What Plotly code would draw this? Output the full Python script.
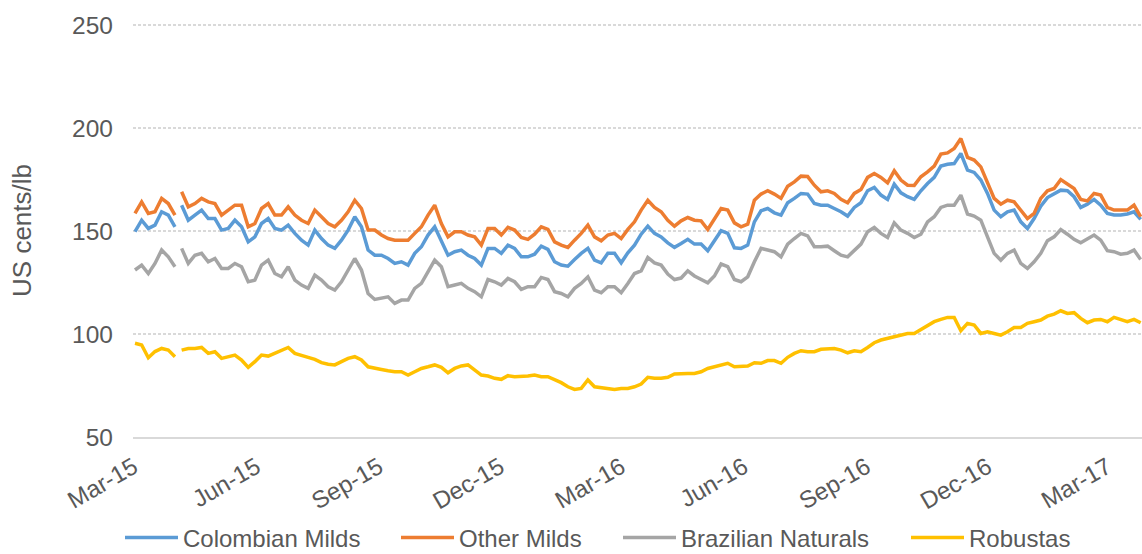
import pandas as pd
import plotly.graph_objects as go

# ---- data (US cents/lb, sampled every 5 days from 2 Mar 2015) ----
start_date = "2015-03-02"
step = "5D"
gap_date = "2015-04-03"   # short break in the published series

series_names = ["Colombian Milds", "Other Milds", "Brazilian Naturals", "Robustas"]

colombian_milds = [
    149.7, 155.3, 151.3, 152.9, 159.4, 157.8, 152.1, 162.6, 155.3, 157.8,
    160.2, 156.1, 156.1, 150.5, 151.3, 155.3, 152.1, 144.8, 147.2, 153.7,
    156.1, 151.3, 150.5, 152.9, 148.9, 145.6, 143.2, 150.5, 146.4, 143.2,
    141.6, 145.6, 150.5, 157.0, 152.1, 140.8, 138.3, 138.3, 136.7, 134.3,
    135.1, 133.5, 139.2, 142.4, 148.1, 152.1, 145.6, 138.3, 140.0, 140.8,
    138.3, 136.7, 133.5, 141.6, 141.6, 139.2, 143.2, 141.6, 137.5, 137.5,
    138.8, 142.7, 141.1, 135.1, 133.5, 133.0, 136.2, 139.2, 141.6, 135.9,
    134.6, 139.2, 139.2, 134.6, 139.5, 143.2, 148.5, 152.4, 148.9, 147.2,
    144.3, 142.1, 144.0, 146.0, 143.7, 143.7, 140.5, 145.3, 150.2, 148.9,
    141.9, 141.6, 143.2, 154.5, 159.9, 161.0, 158.9, 157.8, 163.8, 165.9,
    168.3, 168.0, 163.4, 162.6, 162.6, 161.0, 159.4, 157.3, 161.5, 163.8,
    169.6, 171.2, 167.5, 165.4, 172.8, 168.6, 166.7, 165.4, 169.6, 173.1,
    176.1, 181.6, 182.5, 182.8, 187.7, 179.6, 178.5, 174.8, 168.3, 160.2,
    157.0, 159.4, 160.2, 154.5, 151.3, 156.1, 162.1, 166.3, 168.0, 169.9,
    169.6, 166.7, 161.5, 163.1, 165.4, 162.6, 158.6, 157.8, 157.8, 158.3,
    159.4, 155.7,
]

other_milds = [
    158.6, 164.2, 158.6, 159.4, 165.9, 163.4, 157.8, 169.1, 161.8, 163.4,
    165.9, 164.2, 163.4, 157.8, 160.2, 162.6, 162.6, 152.1, 153.7, 161.0,
    163.4, 157.8, 157.8, 161.8, 157.8, 155.3, 153.7, 160.2, 157.0, 153.7,
    152.1, 155.3, 159.4, 165.0, 161.0, 150.5, 150.5, 148.1, 146.4, 145.6,
    145.6, 145.6, 148.9, 152.1, 157.8, 162.6, 153.7, 147.2, 149.7, 149.7,
    148.1, 147.2, 143.2, 151.3, 151.3, 148.1, 151.8, 150.5, 146.9, 146.0,
    148.5, 152.1, 150.8, 144.8, 143.2, 142.1, 145.6, 148.9, 152.9, 147.2,
    145.3, 148.1, 148.9, 146.4, 150.8, 154.5, 160.2, 165.0, 161.5, 159.4,
    155.3, 152.4, 155.0, 156.6, 155.3, 155.0, 150.8, 155.7, 161.0, 160.2,
    154.0, 152.1, 153.4, 165.0, 168.0, 169.6, 168.0, 165.9, 171.8, 173.9,
    176.7, 176.5, 172.3, 169.1, 169.6, 168.3, 165.4, 163.8, 168.3, 170.2,
    176.1, 178.0, 176.1, 173.5, 179.3, 174.8, 172.3, 172.2, 176.4, 178.8,
    181.6, 187.4, 188.0, 190.1, 195.0, 185.8, 184.5, 181.2, 173.9, 165.9,
    163.1, 165.0, 164.2, 160.2, 156.1, 158.6, 165.9, 169.6, 170.7, 175.0,
    172.8, 170.7, 165.4, 164.7, 168.3, 167.5, 161.5, 160.2, 160.2, 160.2,
    162.6, 157.0,
]

brazilian_naturals = [
    131.1, 133.5, 129.4, 134.3, 140.8, 137.5, 132.7, 141.6, 134.3, 138.3,
    139.2, 135.1, 136.7, 131.9, 131.9, 134.3, 132.7, 125.4, 126.2, 133.5,
    135.9, 129.4, 127.8, 132.7, 126.2, 123.8, 122.2, 128.6, 126.2, 123.0,
    121.4, 125.4, 131.1, 136.7, 131.1, 119.7, 116.8, 117.3, 118.1, 114.9,
    116.5, 116.5, 122.2, 124.6, 130.3, 135.9, 132.7, 123.0, 123.8, 124.6,
    122.2, 120.6, 118.1, 126.5, 125.4, 123.8, 127.0, 125.4, 121.7, 123.0,
    123.0, 127.5, 126.5, 120.6, 119.7, 118.1, 122.2, 124.6, 127.8, 121.4,
    120.1, 123.0, 123.0, 120.1, 124.6, 129.4, 130.7, 137.2, 134.6, 133.5,
    129.1, 126.5, 127.2, 130.7, 128.2, 126.5, 124.9, 128.2, 134.0, 132.7,
    126.5, 125.4, 127.8, 135.1, 141.6, 140.8, 140.0, 137.5, 143.7, 146.4,
    148.9, 147.7, 142.4, 142.4, 142.7, 140.5, 138.3, 137.5, 140.8, 143.7,
    149.7, 151.8, 148.9, 146.9, 154.0, 150.5, 148.9, 146.9, 148.5, 154.5,
    157.0, 161.5, 162.6, 162.6, 167.5, 158.3, 157.3, 155.3, 147.2, 139.2,
    135.9, 139.2, 140.8, 134.3, 131.9, 135.1, 139.2, 145.3, 147.2, 150.8,
    148.5, 146.0, 144.3, 146.4, 148.1, 145.6, 140.5, 140.0, 138.8, 139.2,
    140.8, 136.2,
]

robustas = [
    95.5, 94.7, 88.5, 91.5, 93.0, 92.2, 89.0, 92.2, 93.0, 93.0,
    93.5, 90.6, 91.4, 88.2, 89.0, 89.8, 87.4, 83.8, 86.6, 89.8,
    89.3, 90.6, 92.2, 93.5, 90.6, 89.8, 88.7, 87.7, 86.1, 85.3,
    85.0, 86.6, 88.2, 89.0, 87.4, 84.1, 83.3, 82.8, 82.2, 81.7,
    81.7, 80.1, 81.7, 83.3, 84.1, 85.0, 83.8, 81.2, 83.3, 84.5,
    85.0, 82.5, 80.1, 79.6, 78.5, 78.0, 79.8, 79.3, 79.3, 79.6,
    80.1, 79.3, 79.3, 78.0, 76.4, 74.4, 73.1, 73.6, 77.7, 74.4,
    74.1, 73.6, 73.1, 73.6, 73.6, 74.4, 75.7, 79.0, 78.5, 78.5,
    79.0, 80.6, 80.9, 80.9, 80.9, 81.7, 83.3, 84.1, 85.0, 85.8,
    84.1, 84.1, 84.5, 86.1, 85.8, 87.1, 87.1, 85.8, 88.7, 90.6,
    91.9, 91.4, 91.4, 92.6, 93.0, 93.0, 92.2, 90.9, 91.9, 91.4,
    93.5, 95.8, 97.1, 97.9, 99.0, 99.5, 100.3, 100.3, 102.3, 103.9,
    106.0, 107.1, 108.1, 108.1, 101.6, 105.2, 104.4, 100.3, 101.1, 100.3,
    99.5, 101.1, 103.2, 103.2, 105.2, 106.0, 106.8, 108.7, 109.7, 111.3,
    110.0, 110.4, 107.6, 105.5, 106.8, 107.1, 106.0, 108.1, 107.1, 106.0,
    107.1, 105.5,
]

y_ticks = [50, 100, 150, 200, 250]
y_title = "US cents/lb"

# ---- build table ----
dates = pd.date_range(start_date, periods=len(colombian_milds), freq=step)
df = pd.DataFrame(
    {
        "Colombian Milds": colombian_milds,
        "Other Milds": other_milds,
        "Brazilian Naturals": brazilian_naturals,
        "Robustas": robustas,
    },
    index=dates,
)
df.loc[pd.Timestamp(gap_date)] = float("nan")
df = df.sort_index()

colors = {
    "Colombian Milds": "#5B9BD5",
    "Other Milds": "#ED7D31",
    "Brazilian Naturals": "#A5A5A5",
    "Robustas": "#FFC000",
}

FONT = "Liberation Sans, Arial, sans-serif"
TEXT = "#595959"
W, H = 1142, 554

legend_ids = ["legend", "legend2", "legend3", "legend4"]
legend_left_px = [120, 396, 618, 906]

fig = go.Figure()
for name, lid in zip(series_names, legend_ids):
    fig.add_trace(
        go.Scatter(
            x=df.index,
            y=df[name],
            name=name,
            mode="lines",
            connectgaps=False,
            line=dict(color=colors[name], width=3.5),
            legend=lid,
        )
    )

legend_common = dict(
    orientation="h",
    xref="container",
    yref="container",
    xanchor="left",
    yanchor="middle",
    y=1 - 538 / H,
    font=dict(family=FONT, size=24, color=TEXT),
    itemwidth=53,
    bgcolor="rgba(0,0,0,0)",
)

layout_legends = {}
for lid, lx in zip(legend_ids, legend_left_px):
    layout_legends[lid] = dict(legend_common, x=lx / W)

fig.update_layout(
    width=W,
    height=H,
    margin=dict(l=133, r=0, t=24, b=117, autoexpand=False),
    paper_bgcolor="white",
    plot_bgcolor="white",
    font=dict(family=FONT, color=TEXT, size=24),
    showlegend=True,
    **layout_legends,
)

fig.update_xaxes(
    type="date",
    range=["2015-02-28 12:00", "2017-03-27"],
    tick0="2015-03-01",
    dtick="M3",
    tickformat="%b-%y",
    tickangle=-30,
    ticklabelstandoff=5,
    showgrid=False,
    showline=True,
    linecolor="#D9D9D9",
    linewidth=2,
    ticks="",
    automargin=False,
    tickfont=dict(family=FONT, size=24, color=TEXT),
)

fig.update_yaxes(
    range=[50, 250.6],
    tickvals=y_ticks,
    showgrid=True,
    gridcolor="#D9D9D9",
    gridwidth=2,
    griddash="3px,2px",
    zeroline=False,
    ticks="",
    ticklabelstandoff=19,
    automargin=False,
    tickfont=dict(family=FONT, size=24.5, color=TEXT),
    title=dict(text=y_title, font=dict(family=FONT, size=26, color=TEXT), standoff=33),
)

fig.write_html(
    "out.html",
    config={"displayModeBar": False},
    post_script="document.body.style.margin='0';document.body.style.padding='0';",
)
